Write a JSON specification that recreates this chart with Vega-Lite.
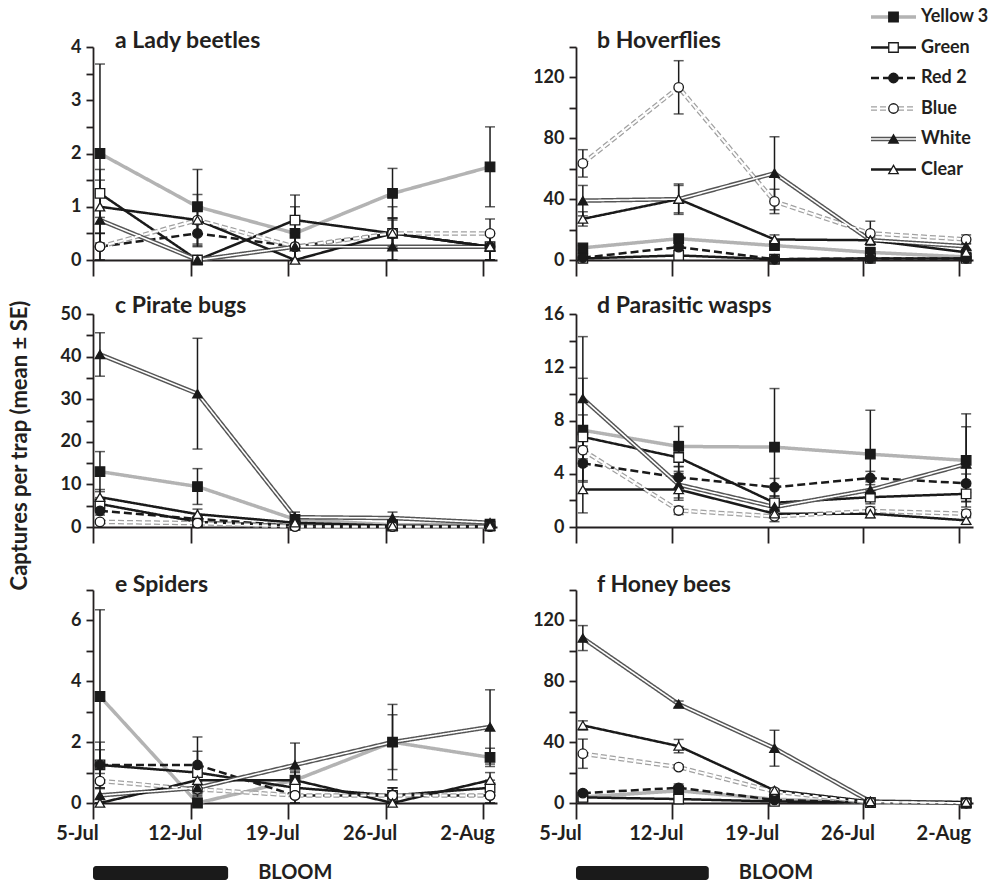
{
  "$schema": "https://vega.github.io/schema/vega-lite/v6.json",
  "padding": {"left": 8, "top": 8, "right": 5, "bottom": 3},
  "config": {
    "view": {"stroke": null},
    "font": "Lato",
    "axis": {"grid": false, "domainColor": "#231f20", "domainWidth": 1.8, "tickColor": "#231f20", "tickWidth": 1.8, "labelFont": "Lato", "labelFontWeight": "bold", "labelColor": "#231f20", "labelFontSize": 18},
    "axisX": {"tickSize": 16, "labelPadding": 4, "labelFontSize": 20, "labelFlush": false, "labelOverlap": false},
    "axisY": {"tickSize": 7, "labelPadding": 5},
    "title": {"font": "Lato", "fontSize": 23, "fontWeight": "bold", "color": "#231f20"}
  },
  "title": {"text": "Captures per trap (mean ± SE)", "orient": "left", "anchor": "middle", "fontSize": 22, "offset": 24},
  "datasets": {
    "a": [
      {"s":"Yellow 3","d":5.5,"m":2,"e":1.68},{"s":"Yellow 3","d":12.5,"m":1,"e":0.7},{"s":"Yellow 3","d":19.5,"m":0.5,"e":0.72},{"s":"Yellow 3","d":26.5,"m":1.25,"e":0.47},{"s":"Yellow 3","d":33.5,"m":1.75,"e":0.75},
      {"s":"Green","d":5.5,"m":1.25,"e":0.45},{"s":"Green","d":12.5,"m":0,"e":0},{"s":"Green","d":19.5,"m":0.75,"e":0.25},{"s":"Green","d":26.5,"m":0.5,"e":0.5},{"s":"Green","d":33.5,"m":0.25,"e":0.25},
      {"s":"Red 2","d":5.5,"m":0.25,"e":0.25},{"s":"Red 2","d":12.5,"m":0.5,"e":0.25},{"s":"Red 2","d":19.5,"m":0.25,"e":0.25},{"s":"Red 2","d":26.5,"m":0.5,"e":0.29},{"s":"Red 2","d":33.5,"m":0.25,"e":0.25},
      {"s":"Blue","d":5.5,"m":0.25,"e":0.25},{"s":"Blue","d":12.5,"m":0.75,"e":0.25},{"s":"Blue","d":19.5,"m":0.25,"e":0.25},{"s":"Blue","d":26.5,"m":0.5,"e":0.29},{"s":"Blue","d":33.5,"m":0.5,"e":0.27},
      {"s":"White","d":5.5,"m":0.75,"e":0.5},{"s":"White","d":12.5,"m":0,"e":0},{"s":"White","d":19.5,"m":0.25,"e":0.25},{"s":"White","d":26.5,"m":0.25,"e":0.25},{"s":"White","d":33.5,"m":0.25,"e":0.25},
      {"s":"Clear","d":5.5,"m":1,"e":0.5},{"s":"Clear","d":12.5,"m":0.75,"e":0.48},{"s":"Clear","d":19.5,"m":0,"e":0},{"s":"Clear","d":26.5,"m":0.5,"e":0.25},{"s":"Clear","d":33.5,"m":0.25,"e":0.25}
    ],
    "b": [
      {"s":"Yellow 3","d":5.5,"m":8,"e":1.5},{"s":"Yellow 3","d":12.5,"m":14,"e":2},{"s":"Yellow 3","d":19.5,"m":9.5,"e":2},{"s":"Yellow 3","d":26.5,"m":5,"e":2},{"s":"Yellow 3","d":33.5,"m":2,"e":1},
      {"s":"Green","d":5.5,"m":1,"e":0.5},{"s":"Green","d":12.5,"m":3,"e":1},{"s":"Green","d":19.5,"m":0.5,"e":0.3},{"s":"Green","d":26.5,"m":1,"e":0.5},{"s":"Green","d":33.5,"m":1,"e":0.5},
      {"s":"Red 2","d":5.5,"m":1.5,"e":0.5},{"s":"Red 2","d":12.5,"m":8.5,"e":1.5},{"s":"Red 2","d":19.5,"m":0.5,"e":0.3},{"s":"Red 2","d":26.5,"m":1,"e":0.5},{"s":"Red 2","d":33.5,"m":1,"e":0.5},
      {"s":"Blue","d":5.5,"m":63.5,"e":9},{"s":"Blue","d":12.5,"m":113.5,"e":17.5},{"s":"Blue","d":19.5,"m":38.5,"e":8},{"s":"Blue","d":26.5,"m":17.5,"e":8},{"s":"Blue","d":33.5,"m":13.5,"e":3},
      {"s":"White","d":5.5,"m":39,"e":10},{"s":"White","d":12.5,"m":40,"e":10},{"s":"White","d":19.5,"m":57,"e":24},{"s":"White","d":26.5,"m":13,"e":3},{"s":"White","d":33.5,"m":9,"e":2},
      {"s":"Clear","d":5.5,"m":27,"e":4.7},{"s":"Clear","d":12.5,"m":40,"e":9},{"s":"Clear","d":19.5,"m":13.5,"e":3},{"s":"Clear","d":26.5,"m":13,"e":2},{"s":"Clear","d":33.5,"m":5,"e":1.5}
    ],
    "c": [
      {"s":"Yellow 3","d":5.5,"m":13,"e":4.7},{"s":"Yellow 3","d":12.5,"m":9.5,"e":4.2},{"s":"Yellow 3","d":19.5,"m":1.8,"e":0.8},{"s":"Yellow 3","d":26.5,"m":0.5,"e":0.3},{"s":"Yellow 3","d":33.5,"m":0.7,"e":0.3},
      {"s":"Green","d":5.5,"m":5.4,"e":1.5},{"s":"Green","d":12.5,"m":1.2,"e":0.5},{"s":"Green","d":19.5,"m":0.4,"e":0.2},{"s":"Green","d":26.5,"m":0.2,"e":0.1},{"s":"Green","d":33.5,"m":0.2,"e":0.1},
      {"s":"Red 2","d":5.5,"m":3.8,"e":1},{"s":"Red 2","d":12.5,"m":1.9,"e":0.6},{"s":"Red 2","d":19.5,"m":0.3,"e":0.2},{"s":"Red 2","d":26.5,"m":0.2,"e":0.1},{"s":"Red 2","d":33.5,"m":0.2,"e":0.1},
      {"s":"Blue","d":5.5,"m":1.2,"e":0.4},{"s":"Blue","d":12.5,"m":0.9,"e":0.3},{"s":"Blue","d":19.5,"m":0.1,"e":0.1},{"s":"Blue","d":26.5,"m":0.1,"e":0.1},{"s":"Blue","d":33.5,"m":0.1,"e":0.1},
      {"s":"White","d":5.5,"m":40.5,"e":5.1},{"s":"White","d":12.5,"m":31.3,"e":13},{"s":"White","d":19.5,"m":2.3,"e":1.2},{"s":"White","d":26.5,"m":2.1,"e":1.4},{"s":"White","d":33.5,"m":1,"e":0.4},
      {"s":"Clear","d":5.5,"m":7,"e":1.8},{"s":"Clear","d":12.5,"m":3,"e":1.2},{"s":"Clear","d":19.5,"m":1,"e":0.4},{"s":"Clear","d":26.5,"m":0.3,"e":0.2},{"s":"Clear","d":33.5,"m":0.2,"e":0.1}
    ],
    "d": [
      {"s":"Yellow 3","d":5.5,"m":7.27,"e":3.9},{"s":"Yellow 3","d":12.5,"m":6.05,"e":1.5},{"s":"Yellow 3","d":19.5,"m":6,"e":4.4},{"s":"Yellow 3","d":26.5,"m":5.47,"e":3.3},{"s":"Yellow 3","d":33.5,"m":5,"e":3.5},
      {"s":"Green","d":5.5,"m":6.77,"e":1.65},{"s":"Green","d":12.5,"m":5.22,"e":1.2},{"s":"Green","d":19.5,"m":1.82,"e":0.5},{"s":"Green","d":26.5,"m":2.24,"e":0.5},{"s":"Green","d":33.5,"m":2.49,"e":0.6},
      {"s":"Red 2","d":5.5,"m":4.78,"e":1.3},{"s":"Red 2","d":12.5,"m":3.73,"e":0.8},{"s":"Red 2","d":19.5,"m":2.99,"e":0.66},{"s":"Red 2","d":26.5,"m":3.68,"e":0.5},{"s":"Red 2","d":33.5,"m":3.28,"e":0.7},
      {"s":"Blue","d":5.5,"m":5.77,"e":1},{"s":"Blue","d":12.5,"m":1.24,"e":0.3},{"s":"Blue","d":19.5,"m":0.8,"e":0.4},{"s":"Blue","d":26.5,"m":1.2,"e":0.3},{"s":"Blue","d":33.5,"m":1,"e":0.3},
      {"s":"White","d":5.5,"m":9.65,"e":4.65},{"s":"White","d":12.5,"m":3.18,"e":1},{"s":"White","d":19.5,"m":1.5,"e":0.5},{"s":"White","d":26.5,"m":2.79,"e":0.6},{"s":"White","d":33.5,"m":4.73,"e":2.8},
      {"s":"Clear","d":5.5,"m":2.81,"e":1.75},{"s":"Clear","d":12.5,"m":2.81,"e":0.8},{"s":"Clear","d":19.5,"m":1,"e":0.3},{"s":"Clear","d":26.5,"m":1,"e":0.3},{"s":"Clear","d":33.5,"m":0.5,"e":0.3}
    ],
    "e": [
      {"s":"Yellow 3","d":5.5,"m":3.5,"e":2.85},{"s":"Yellow 3","d":12.5,"m":0,"e":0},{"s":"Yellow 3","d":19.5,"m":0.75,"e":0.3},{"s":"Yellow 3","d":26.5,"m":2,"e":1.24},{"s":"Yellow 3","d":33.5,"m":1.5,"e":0.3},
      {"s":"Green","d":5.5,"m":1.25,"e":0.5},{"s":"Green","d":12.5,"m":1,"e":0.7},{"s":"Green","d":19.5,"m":0.5,"e":0.25},{"s":"Green","d":26.5,"m":0.25,"e":0.25},{"s":"Green","d":33.5,"m":0.5,"e":0.25},
      {"s":"Red 2","d":5.5,"m":1.25,"e":0.75},{"s":"Red 2","d":12.5,"m":1.25,"e":0.92},{"s":"Red 2","d":19.5,"m":0.25,"e":0.25},{"s":"Red 2","d":26.5,"m":0.25,"e":0.25},{"s":"Red 2","d":33.5,"m":0.25,"e":0.25},
      {"s":"Blue","d":5.5,"m":0.72,"e":0.25},{"s":"Blue","d":12.5,"m":0.45,"e":0.25},{"s":"Blue","d":19.5,"m":0.25,"e":0.25},{"s":"Blue","d":26.5,"m":0.25,"e":0.25},{"s":"Blue","d":33.5,"m":0.25,"e":0.25},
      {"s":"White","d":5.5,"m":0.25,"e":0.25},{"s":"White","d":12.5,"m":0.5,"e":0.25},{"s":"White","d":19.5,"m":1.25,"e":0.72},{"s":"White","d":26.5,"m":2,"e":0.9},{"s":"White","d":33.5,"m":2.5,"e":1.22},
      {"s":"Clear","d":5.5,"m":0,"e":0},{"s":"Clear","d":12.5,"m":0.75,"e":0.25},{"s":"Clear","d":19.5,"m":0.75,"e":0.25},{"s":"Clear","d":26.5,"m":0,"e":0},{"s":"Clear","d":33.5,"m":0.75,"e":0.25}
    ],
    "f": [
      {"s":"Yellow 3","d":5.5,"m":4,"e":1},{"s":"Yellow 3","d":12.5,"m":8,"e":2},{"s":"Yellow 3","d":19.5,"m":2.5,"e":1},{"s":"Yellow 3","d":26.5,"m":0.3,"e":0.2},{"s":"Yellow 3","d":33.5,"m":0,"e":0},
      {"s":"Green","d":5.5,"m":3.7,"e":1},{"s":"Green","d":12.5,"m":2.6,"e":0.8},{"s":"Green","d":19.5,"m":1,"e":0.5},{"s":"Green","d":26.5,"m":0.3,"e":0.2},{"s":"Green","d":33.5,"m":0,"e":0},
      {"s":"Red 2","d":5.5,"m":6.5,"e":1.5},{"s":"Red 2","d":12.5,"m":10,"e":2.5},{"s":"Red 2","d":19.5,"m":2,"e":0.8},{"s":"Red 2","d":26.5,"m":0.3,"e":0.2},{"s":"Red 2","d":33.5,"m":0,"e":0},
      {"s":"Blue","d":5.5,"m":32.4,"e":9.6},{"s":"Blue","d":12.5,"m":23.6,"e":1.5},{"s":"Blue","d":19.5,"m":7.5,"e":1},{"s":"Blue","d":26.5,"m":0.5,"e":0.3},{"s":"Blue","d":33.5,"m":0,"e":0},
      {"s":"White","d":5.5,"m":108.4,"e":8.2},{"s":"White","d":12.5,"m":65,"e":2},{"s":"White","d":19.5,"m":36,"e":11.8},{"s":"White","d":26.5,"m":1,"e":0.5},{"s":"White","d":33.5,"m":0,"e":0},
      {"s":"Clear","d":5.5,"m":51,"e":3},{"s":"Clear","d":12.5,"m":37.4,"e":4.4},{"s":"Clear","d":19.5,"m":8.3,"e":1},{"s":"Clear","d":26.5,"m":1,"e":0.5},{"s":"Clear","d":33.5,"m":0.5,"e":0.3}
    ],
    "legend": [{"s":"Yellow 3"},{"s":"Green"},{"s":"Red 2"},{"s":"Blue"},{"s":"White"},{"s":"Clear"}],
    "bloom": [{"start": 5, "end": 14.7, "label": "BLOOM"}]
  },
  "columns": 2,
  "spacing": {"row": 54, "column": 79},
  "bounds": "flush",
  "concat": [
    {
      "width": 404, "height": 213,
      "title": {"text": "a  Lady beetles", "frame": "group", "anchor": "start", "dx": 22, "baseline": "alphabetic", "offset": -33},
      "data": {"name": "a"},
      "encoding": {
        "x": {"field": "d", "type": "quantitative", "scale": {"domain": [5, 34], "nice": false, "zero": false}, "axis": {"values": [5, 12, 19, 26, 33], "labels": false, "title": null}},
        "y": {"field": "m", "type": "quantitative", "scale": {"domain": [0, 4], "nice": false, "clamp": true}, "axis": {"values": [0, 0.5, 1, 1.5, 2, 2.5, 3, 3.5, 4], "format": ".0f", "labelExpr": "datum.value % 1 === 0 ? datum.label : ''", "title": null}}
      },
      "layer": [
        {"mark": {"type": "line"}, "encoding": {
          "stroke": {"field": "s", "type": "nominal", "scale": {"domain": ["Yellow 3","Green","Red 2","Blue","White","Clear"], "range": ["#b3b3b3","#1a1a1a","#1a1a1a","#a0a0a0","#555555","#1a1a1a"]}, "legend": null},
          "strokeDash": {"field": "s", "type": "nominal", "scale": {"domain": ["Yellow 3","Green","Red 2","Blue","White","Clear"], "range": [[1,0],[1,0],[8,4],[6,3],[1,0],[1,0]]}, "legend": null},
          "strokeWidth": {"condition": [{"test": "datum.s==='Blue'||datum.s==='White'", "value": 4.5}, {"test": "datum.s==='Yellow 3'", "value": 3.5}], "value": 2.5}}},
        {"transform": [{"filter": "datum.s==='Blue'||datum.s==='White'"}], "mark": {"type": "line", "stroke": "white"}, "encoding": {
          "detail": {"field": "s", "type": "nominal"},
          "strokeDash": {"field": "s", "type": "nominal", "scale": {"domain": ["Yellow 3","Green","Red 2","Blue","White","Clear"], "range": [[1,0],[1,0],[8,4],[6,3],[1,0],[1,0]]}, "legend": null},
          "strokeWidth": {"condition": {"test": "datum.s==='Blue'", "value": 2}, "value": 1.6}}},
        {"mark": {"type": "errorbar", "ticks": {"size": 10}, "thickness": 1.5, "color": "#1a1a1a"}, "encoding": {"yError": {"field": "e"}}},
        {"mark": {"type": "point", "filled": true, "size": 90, "stroke": "#1a1a1a", "strokeWidth": 1.3, "opacity": 1}, "encoding": {
          "shape": {"field": "s", "type": "nominal", "scale": {"domain": ["Yellow 3","Green","Red 2","Blue","White","Clear"], "range": ["square","square","circle","circle","triangle-up","triangle-up"]}, "legend": null},
          "fill": {"field": "s", "type": "nominal", "scale": {"domain": ["Yellow 3","Green","Red 2","Blue","White","Clear"], "range": ["#1a1a1a","white","#1a1a1a","white","#1a1a1a","white"]}, "legend": null}}}
      ]
    },
    {
      "width": 397, "height": 213,
      "title": {"text": "b  Hoverflies", "frame": "group", "anchor": "start", "dx": 21, "baseline": "alphabetic", "offset": -63},
      "layer": [
        {
          "data": {"name": "b"},
          "encoding": {
            "x": {"field": "d", "type": "quantitative", "scale": {"domain": [5, 34], "nice": false, "zero": false}, "axis": {"values": [5, 12, 19, 26, 33], "labels": false, "title": null}},
            "y": {"field": "m", "type": "quantitative", "scale": {"domain": [0, 140], "nice": false, "clamp": true}, "axis": {"values": [0, 20, 40, 60, 80, 100, 120, 140], "labelExpr": "datum.value % 40 === 0 ? datum.label : ''", "title": null}}
          },
          "layer": [
            {"mark": {"type": "line"}, "encoding": {
              "stroke": {"field": "s", "type": "nominal", "scale": {"domain": ["Yellow 3","Green","Red 2","Blue","White","Clear"], "range": ["#b3b3b3","#1a1a1a","#1a1a1a","#a0a0a0","#555555","#1a1a1a"]}, "legend": null},
              "strokeDash": {"field": "s", "type": "nominal", "scale": {"domain": ["Yellow 3","Green","Red 2","Blue","White","Clear"], "range": [[1,0],[1,0],[8,4],[6,3],[1,0],[1,0]]}, "legend": null},
              "strokeWidth": {"condition": [{"test": "datum.s==='Blue'||datum.s==='White'", "value": 4.5}, {"test": "datum.s==='Yellow 3'", "value": 3.5}], "value": 2.5}}},
            {"transform": [{"filter": "datum.s==='Blue'||datum.s==='White'"}], "mark": {"type": "line", "stroke": "white"}, "encoding": {
              "detail": {"field": "s", "type": "nominal"},
              "strokeDash": {"field": "s", "type": "nominal", "scale": {"domain": ["Yellow 3","Green","Red 2","Blue","White","Clear"], "range": [[1,0],[1,0],[8,4],[6,3],[1,0],[1,0]]}, "legend": null},
              "strokeWidth": {"condition": {"test": "datum.s==='Blue'", "value": 2}, "value": 1.6}}},
            {"mark": {"type": "errorbar", "ticks": {"size": 10}, "thickness": 1.5, "color": "#1a1a1a"}, "encoding": {"yError": {"field": "e"}}},
            {"mark": {"type": "point", "filled": true, "size": 90, "stroke": "#1a1a1a", "strokeWidth": 1.3, "opacity": 1}, "encoding": {
              "shape": {"field": "s", "type": "nominal", "scale": {"domain": ["Yellow 3","Green","Red 2","Blue","White","Clear"], "range": ["square","square","circle","circle","triangle-up","triangle-up"]}, "legend": null},
              "fill": {"field": "s", "type": "nominal", "scale": {"domain": ["Yellow 3","Green","Red 2","Blue","White","Clear"], "range": ["#1a1a1a","white","#1a1a1a","white","#1a1a1a","white"]}, "legend": null}}}
          ]
        },
        {
          "data": {"name": "legend"},
          "encoding": {"y": {"field": "s", "type": "nominal", "scale": {"domain": ["Yellow 3","Green","Red 2","Blue","White","Clear"], "range": [-45.25, 137.75]}, "axis": null}},
          "layer": [
            {"mark": {"type": "rule"}, "encoding": {
              "x": {"datum": 0, "type": "quantitative", "scale": {"domain": [0, 1], "range": [295, 340]}, "axis": null},
              "x2": {"datum": 1},
              "stroke": {"field": "s", "type": "nominal", "scale": {"domain": ["Yellow 3","Green","Red 2","Blue","White","Clear"], "range": ["#b3b3b3","#1a1a1a","#1a1a1a","#a0a0a0","#555555","#1a1a1a"]}, "legend": null},
              "strokeDash": {"field": "s", "type": "nominal", "scale": {"domain": ["Yellow 3","Green","Red 2","Blue","White","Clear"], "range": [[1,0],[1,0],[8,4],[6,3],[1,0],[1,0]]}, "legend": null},
              "strokeWidth": {"condition": [{"test": "datum.s==='Blue'||datum.s==='White'", "value": 4.5}, {"test": "datum.s==='Yellow 3'", "value": 3.5}], "value": 2.5}}},
            {"transform": [{"filter": "datum.s==='Blue'||datum.s==='White'"}], "mark": {"type": "rule", "stroke": "white"}, "encoding": {
              "x": {"datum": 0, "type": "quantitative", "scale": {"domain": [0, 1], "range": [295, 340]}, "axis": null},
              "x2": {"datum": 1},
              "strokeDash": {"field": "s", "type": "nominal", "scale": {"domain": ["Yellow 3","Green","Red 2","Blue","White","Clear"], "range": [[1,0],[1,0],[8,4],[6,3],[1,0],[1,0]]}, "legend": null},
              "strokeWidth": {"condition": {"test": "datum.s==='Blue'", "value": 2}, "value": 1.6}}},
            {"mark": {"type": "point", "filled": true, "size": 90, "stroke": "#1a1a1a", "strokeWidth": 1.3, "opacity": 1}, "encoding": {
              "x": {"datum": 0.5, "type": "quantitative", "scale": {"domain": [0, 1], "range": [295, 340]}, "axis": null},
              "shape": {"field": "s", "type": "nominal", "scale": {"domain": ["Yellow 3","Green","Red 2","Blue","White","Clear"], "range": ["square","square","circle","circle","triangle-up","triangle-up"]}, "legend": null},
              "fill": {"field": "s", "type": "nominal", "scale": {"domain": ["Yellow 3","Green","Red 2","Blue","White","Clear"], "range": ["#1a1a1a","white","#1a1a1a","white","#1a1a1a","white"]}, "legend": null}}},
            {"mark": {"type": "text", "align": "left", "baseline": "middle", "dx": 5, "font": "Lato", "fontSize": 18, "fontWeight": "bold", "color": "#231f20"}, "encoding": {
              "x": {"datum": 1, "type": "quantitative", "scale": {"domain": [0, 1], "range": [295, 340]}, "axis": null},
              "text": {"field": "s", "type": "nominal"}}}
          ]
        }
      ],
      "resolve": {"scale": {"x": "independent", "y": "independent"}}
    },
    {
      "width": 404, "height": 213,
      "title": {"text": "c  Pirate bugs", "frame": "group", "anchor": "start", "dx": 22, "baseline": "alphabetic", "offset": -31},
      "data": {"name": "c"},
      "encoding": {
        "x": {"field": "d", "type": "quantitative", "scale": {"domain": [5, 34], "nice": false, "zero": false}, "axis": {"values": [5, 12, 19, 26, 33], "labels": false, "title": null}},
        "y": {"field": "m", "type": "quantitative", "scale": {"domain": [0, 50], "nice": false, "clamp": true}, "axis": {"values": [0, 5, 10, 15, 20, 25, 30, 35, 40, 45, 50], "labelExpr": "datum.value % 10 === 0 ? datum.label : ''", "title": null}}
      },
      "layer": [
        {"mark": {"type": "line"}, "encoding": {
          "stroke": {"field": "s", "type": "nominal", "scale": {"domain": ["Yellow 3","Green","Red 2","Blue","White","Clear"], "range": ["#b3b3b3","#1a1a1a","#1a1a1a","#a0a0a0","#555555","#1a1a1a"]}, "legend": null},
          "strokeDash": {"field": "s", "type": "nominal", "scale": {"domain": ["Yellow 3","Green","Red 2","Blue","White","Clear"], "range": [[1,0],[1,0],[8,4],[6,3],[1,0],[1,0]]}, "legend": null},
          "strokeWidth": {"condition": [{"test": "datum.s==='Blue'||datum.s==='White'", "value": 4.5}, {"test": "datum.s==='Yellow 3'", "value": 3.5}], "value": 2.5}}},
        {"transform": [{"filter": "datum.s==='Blue'||datum.s==='White'"}], "mark": {"type": "line", "stroke": "white"}, "encoding": {
          "detail": {"field": "s", "type": "nominal"},
          "strokeDash": {"field": "s", "type": "nominal", "scale": {"domain": ["Yellow 3","Green","Red 2","Blue","White","Clear"], "range": [[1,0],[1,0],[8,4],[6,3],[1,0],[1,0]]}, "legend": null},
          "strokeWidth": {"condition": {"test": "datum.s==='Blue'", "value": 2}, "value": 1.6}}},
        {"mark": {"type": "errorbar", "ticks": {"size": 10}, "thickness": 1.5, "color": "#1a1a1a"}, "encoding": {"yError": {"field": "e"}}},
        {"mark": {"type": "point", "filled": true, "size": 90, "stroke": "#1a1a1a", "strokeWidth": 1.3, "opacity": 1}, "encoding": {
          "shape": {"field": "s", "type": "nominal", "scale": {"domain": ["Yellow 3","Green","Red 2","Blue","White","Clear"], "range": ["square","square","circle","circle","triangle-up","triangle-up"]}, "legend": null},
          "fill": {"field": "s", "type": "nominal", "scale": {"domain": ["Yellow 3","Green","Red 2","Blue","White","Clear"], "range": ["#1a1a1a","white","#1a1a1a","white","#1a1a1a","white"]}, "legend": null}}}
      ]
    },
    {
      "width": 397, "height": 213,
      "title": {"text": "d  Parasitic wasps", "frame": "group", "anchor": "start", "dx": 21, "baseline": "alphabetic", "offset": -31},
      "data": {"name": "d"},
      "encoding": {
        "x": {"field": "d", "type": "quantitative", "scale": {"domain": [5, 34], "nice": false, "zero": false}, "axis": {"values": [5, 12, 19, 26, 33], "labels": false, "title": null}},
        "y": {"field": "m", "type": "quantitative", "scale": {"domain": [0, 16], "nice": false, "clamp": true}, "axis": {"values": [0, 2, 4, 6, 8, 10, 12, 14, 16], "labelExpr": "datum.value % 4 === 0 ? datum.label : ''", "title": null}}
      },
      "layer": [
        {"mark": {"type": "line"}, "encoding": {
          "stroke": {"field": "s", "type": "nominal", "scale": {"domain": ["Yellow 3","Green","Red 2","Blue","White","Clear"], "range": ["#b3b3b3","#1a1a1a","#1a1a1a","#a0a0a0","#555555","#1a1a1a"]}, "legend": null},
          "strokeDash": {"field": "s", "type": "nominal", "scale": {"domain": ["Yellow 3","Green","Red 2","Blue","White","Clear"], "range": [[1,0],[1,0],[8,4],[6,3],[1,0],[1,0]]}, "legend": null},
          "strokeWidth": {"condition": [{"test": "datum.s==='Blue'||datum.s==='White'", "value": 4.5}, {"test": "datum.s==='Yellow 3'", "value": 3.5}], "value": 2.5}}},
        {"transform": [{"filter": "datum.s==='Blue'||datum.s==='White'"}], "mark": {"type": "line", "stroke": "white"}, "encoding": {
          "detail": {"field": "s", "type": "nominal"},
          "strokeDash": {"field": "s", "type": "nominal", "scale": {"domain": ["Yellow 3","Green","Red 2","Blue","White","Clear"], "range": [[1,0],[1,0],[8,4],[6,3],[1,0],[1,0]]}, "legend": null},
          "strokeWidth": {"condition": {"test": "datum.s==='Blue'", "value": 2}, "value": 1.6}}},
        {"mark": {"type": "errorbar", "ticks": {"size": 10}, "thickness": 1.5, "color": "#1a1a1a"}, "encoding": {"yError": {"field": "e"}}},
        {"mark": {"type": "point", "filled": true, "size": 90, "stroke": "#1a1a1a", "strokeWidth": 1.3, "opacity": 1}, "encoding": {
          "shape": {"field": "s", "type": "nominal", "scale": {"domain": ["Yellow 3","Green","Red 2","Blue","White","Clear"], "range": ["square","square","circle","circle","triangle-up","triangle-up"]}, "legend": null},
          "fill": {"field": "s", "type": "nominal", "scale": {"domain": ["Yellow 3","Green","Red 2","Blue","White","Clear"], "range": ["#1a1a1a","white","#1a1a1a","white","#1a1a1a","white"]}, "legend": null}}}
      ]
    },
    {
      "width": 404, "height": 222,
      "title": {"text": "e  Spiders", "frame": "group", "anchor": "start", "dx": 22, "baseline": "alphabetic", "offset": -34},
      "layer": [
        {
          "data": {"name": "e"},
          "encoding": {
            "x": {"field": "d", "type": "quantitative", "scale": {"domain": [5, 34], "nice": false, "zero": false}, "axis": {"values": [5, 12, 19, 26, 33], "labelOffset": -16, "labelAlign": "center", "labelFlush": false, "labelExpr": "datum.value === 5 ? '5-Jul' : datum.value === 12 ? '12-Jul' : datum.value === 19 ? '19-Jul' : datum.value === 26 ? '26-Jul' : '2-Aug'", "title": null}},
            "y": {"field": "m", "type": "quantitative", "scale": {"domain": [0, 7], "range": [222, 9], "nice": false, "clamp": true}, "axis": {"values": [0, 1, 2, 3, 4, 5, 6, 7], "labelExpr": "datum.value % 2 === 0 ? datum.label : ''", "title": null}}
          },
          "layer": [
            {"mark": {"type": "line"}, "encoding": {
              "stroke": {"field": "s", "type": "nominal", "scale": {"domain": ["Yellow 3","Green","Red 2","Blue","White","Clear"], "range": ["#b3b3b3","#1a1a1a","#1a1a1a","#a0a0a0","#555555","#1a1a1a"]}, "legend": null},
              "strokeDash": {"field": "s", "type": "nominal", "scale": {"domain": ["Yellow 3","Green","Red 2","Blue","White","Clear"], "range": [[1,0],[1,0],[8,4],[6,3],[1,0],[1,0]]}, "legend": null},
              "strokeWidth": {"condition": [{"test": "datum.s==='Blue'||datum.s==='White'", "value": 4.5}, {"test": "datum.s==='Yellow 3'", "value": 3.5}], "value": 2.5}}},
            {"transform": [{"filter": "datum.s==='Blue'||datum.s==='White'"}], "mark": {"type": "line", "stroke": "white"}, "encoding": {
              "detail": {"field": "s", "type": "nominal"},
              "strokeDash": {"field": "s", "type": "nominal", "scale": {"domain": ["Yellow 3","Green","Red 2","Blue","White","Clear"], "range": [[1,0],[1,0],[8,4],[6,3],[1,0],[1,0]]}, "legend": null},
              "strokeWidth": {"condition": {"test": "datum.s==='Blue'", "value": 2}, "value": 1.6}}},
            {"mark": {"type": "errorbar", "ticks": {"size": 10}, "thickness": 1.5, "color": "#1a1a1a"}, "encoding": {"yError": {"field": "e"}}},
            {"mark": {"type": "point", "filled": true, "size": 90, "stroke": "#1a1a1a", "strokeWidth": 1.3, "opacity": 1}, "encoding": {
              "shape": {"field": "s", "type": "nominal", "scale": {"domain": ["Yellow 3","Green","Red 2","Blue","White","Clear"], "range": ["square","square","circle","circle","triangle-up","triangle-up"]}, "legend": null},
              "fill": {"field": "s", "type": "nominal", "scale": {"domain": ["Yellow 3","Green","Red 2","Blue","White","Clear"], "range": ["#1a1a1a","white","#1a1a1a","white","#1a1a1a","white"]}, "legend": null}}}
          ]
        },
        {
          "data": {"name": "bloom"},
          "layer": [
            {"mark": {"type": "rect", "color": "#1a1a1a", "cornerRadius": 3}, "encoding": {
              "x": {"field": "start", "type": "quantitative", "title": null},
              "x2": {"field": "end"},
              "y": {"datum": 0, "type": "quantitative", "scale": {"domain": [0, 1], "range": [299, 285]}, "axis": null},
              "y2": {"datum": 1}}},
            {"mark": {"type": "text", "align": "left", "baseline": "middle", "dx": 30, "font": "Lato", "fontSize": 20, "fontWeight": "bold", "color": "#231f20"}, "encoding": {
              "x": {"field": "end", "type": "quantitative", "title": null},
              "y": {"datum": 0.5, "type": "quantitative", "scale": {"domain": [0, 1], "range": [299, 285]}, "axis": null},
              "text": {"field": "label", "type": "nominal"}}}
          ]
        }
      ],
      "resolve": {"scale": {"y": "independent"}}
    },
    {
      "width": 397, "height": 222,
      "title": {"text": "f  Honey bees", "frame": "group", "anchor": "start", "dx": 21, "baseline": "alphabetic", "offset": -34},
      "layer": [
        {
          "data": {"name": "f"},
          "encoding": {
            "x": {"field": "d", "type": "quantitative", "scale": {"domain": [5, 34], "nice": false, "zero": false}, "axis": {"values": [5, 12, 19, 26, 33], "labelOffset": -16, "labelAlign": "center", "labelFlush": false, "labelExpr": "datum.value === 5 ? '5-Jul' : datum.value === 12 ? '12-Jul' : datum.value === 19 ? '19-Jul' : datum.value === 26 ? '26-Jul' : '2-Aug'", "title": null}},
            "y": {"field": "m", "type": "quantitative", "scale": {"domain": [0, 140], "range": [222, 9], "nice": false, "clamp": true}, "axis": {"values": [0, 20, 40, 60, 80, 100, 120, 140], "labelExpr": "datum.value % 40 === 0 ? datum.label : ''", "title": null}}
          },
          "layer": [
            {"mark": {"type": "line"}, "encoding": {
              "stroke": {"field": "s", "type": "nominal", "scale": {"domain": ["Yellow 3","Green","Red 2","Blue","White","Clear"], "range": ["#b3b3b3","#1a1a1a","#1a1a1a","#a0a0a0","#555555","#1a1a1a"]}, "legend": null},
              "strokeDash": {"field": "s", "type": "nominal", "scale": {"domain": ["Yellow 3","Green","Red 2","Blue","White","Clear"], "range": [[1,0],[1,0],[8,4],[6,3],[1,0],[1,0]]}, "legend": null},
              "strokeWidth": {"condition": [{"test": "datum.s==='Blue'||datum.s==='White'", "value": 4.5}, {"test": "datum.s==='Yellow 3'", "value": 3.5}], "value": 2.5}}},
            {"transform": [{"filter": "datum.s==='Blue'||datum.s==='White'"}], "mark": {"type": "line", "stroke": "white"}, "encoding": {
              "detail": {"field": "s", "type": "nominal"},
              "strokeDash": {"field": "s", "type": "nominal", "scale": {"domain": ["Yellow 3","Green","Red 2","Blue","White","Clear"], "range": [[1,0],[1,0],[8,4],[6,3],[1,0],[1,0]]}, "legend": null},
              "strokeWidth": {"condition": {"test": "datum.s==='Blue'", "value": 2}, "value": 1.6}}},
            {"mark": {"type": "errorbar", "ticks": {"size": 10}, "thickness": 1.5, "color": "#1a1a1a"}, "encoding": {"yError": {"field": "e"}}},
            {"mark": {"type": "point", "filled": true, "size": 90, "stroke": "#1a1a1a", "strokeWidth": 1.3, "opacity": 1}, "encoding": {
              "shape": {"field": "s", "type": "nominal", "scale": {"domain": ["Yellow 3","Green","Red 2","Blue","White","Clear"], "range": ["square","square","circle","circle","triangle-up","triangle-up"]}, "legend": null},
              "fill": {"field": "s", "type": "nominal", "scale": {"domain": ["Yellow 3","Green","Red 2","Blue","White","Clear"], "range": ["#1a1a1a","white","#1a1a1a","white","#1a1a1a","white"]}, "legend": null}}}
          ]
        },
        {
          "data": {"name": "bloom"},
          "layer": [
            {"mark": {"type": "rect", "color": "#1a1a1a", "cornerRadius": 3}, "encoding": {
              "x": {"field": "start", "type": "quantitative", "title": null},
              "x2": {"field": "end"},
              "y": {"datum": 0, "type": "quantitative", "scale": {"domain": [0, 1], "range": [299, 285]}, "axis": null},
              "y2": {"datum": 1}}},
            {"mark": {"type": "text", "align": "left", "baseline": "middle", "dx": 30, "font": "Lato", "fontSize": 20, "fontWeight": "bold", "color": "#231f20"}, "encoding": {
              "x": {"field": "end", "type": "quantitative", "title": null},
              "y": {"datum": 0.5, "type": "quantitative", "scale": {"domain": [0, 1], "range": [299, 285]}, "axis": null},
              "text": {"field": "label", "type": "nominal"}}}
          ]
        }
      ],
      "resolve": {"scale": {"y": "independent"}}
    }
  ]
}
